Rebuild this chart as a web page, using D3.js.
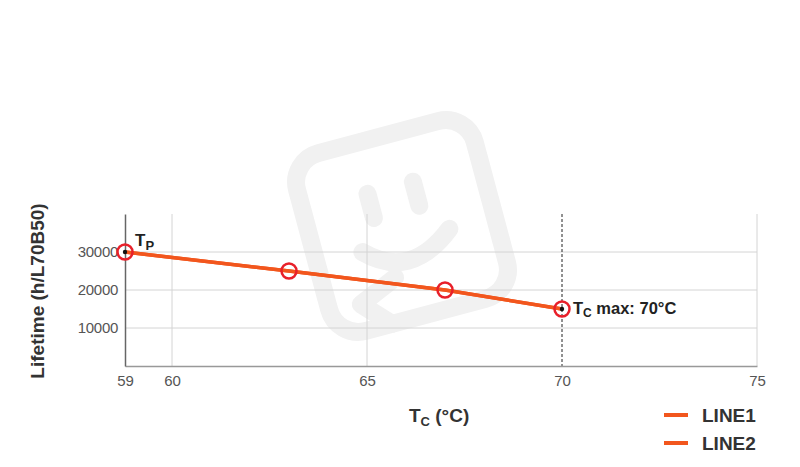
<!DOCTYPE html>
<html>
<head>
<meta charset="utf-8">
<script src="https://cdn.jsdelivr.net/npm/d3@7"></script>
<style>
html,body{margin:0;padding:0;background:#fff;}
svg{display:block;font-family:"Liberation Sans",Arial,sans-serif;}
</style>
</head>
<body>
<svg id="chart" width="800" height="467"></svg>
<script>
// ---- data ----
const temperatures = [59, 63, 67, 70];
const line1Values = [30000, 25000, 20000, 15000];
const line2Values = [30000, 25000, 20000, 15000];
const xTickValues = [59, 60, 65, 70, 75];
const yTickValues = [10000, 20000, 30000];
const seriesNames = ["LINE1", "LINE2"];

const svg = d3.select("#chart");
const lineColor = "#f2561d";
const markerColor = "#e8202a";
const font = "Liberation Sans, Arial, sans-serif";

// scales
const x = d3.scaleLinear().domain([59, 60, 75]).range([125, 172, 757]);
const y = d3.scaleLinear().domain([0, 40000]).range([366, 214]);

// watermark
const wm = svg.append("g")
  .attr("transform", "translate(402,226) rotate(-15)")
  .attr("fill", "none").attr("stroke", "#f1f1f1").attr("stroke-width", 18)
  .attr("stroke-linecap", "round");
wm.append("rect").attr("x", -92).attr("y", -92).attr("width", 184).attr("height", 184).attr("rx", 30);
wm.append("line").attr("x1", -25).attr("y1", -40).attr("x2", -25).attr("y2", -15);
wm.append("line").attr("x1", 22).attr("y1", -40).attr("x2", 22).attr("y2", -15);
wm.append("path").attr("d", "M-45,15 Q-5,55 45,15");
wm.append("path").attr("d", "M-60,65 L-35,92 M-60,65 L-20,48");

// gridlines
const grid = svg.append("g");
grid.selectAll("line.h").data(yTickValues).join("line")
  .attr("x1", x(59)).attr("x2", x(75))
  .attr("y1", d => y(d)).attr("y2", d => y(d))
  .attr("stroke", "#d4d4d4").attr("stroke-width", 1);
grid.selectAll("line.v").data([60, 65, 75]).join("line")
  .attr("x1", d => x(d)).attr("x2", d => x(d))
  .attr("y1", y(40000)).attr("y2", y(0))
  .attr("stroke", "#d4d4d4").attr("stroke-width", 1);

// dashed Tc max line
svg.append("line")
  .attr("x1", x(70)).attr("x2", x(70))
  .attr("y1", y(40000)).attr("y2", y(0))
  .attr("stroke", "#222").attr("stroke-width", 1).attr("stroke-dasharray", "3,2");

// axes
const xAxis = svg.append("g").attr("transform", `translate(0,${y(0)})`)
  .call(d3.axisBottom(x).tickValues(xTickValues).tickSize(0).tickPadding(9).tickFormat(d3.format("d")));
xAxis.select(".domain").attr("stroke", "#999").attr("stroke-width", 1.5);
xAxis.selectAll("text").attr("font-size", 15).attr("fill", "#555").attr("font-family", font);

const yAxis = svg.append("g").attr("transform", `translate(${x(59)},0)`)
  .call(d3.axisLeft(y).tickValues(yTickValues).tickSize(0).tickPadding(7).tickFormat(d3.format("d")));
yAxis.select(".domain").attr("stroke", "#666").attr("stroke-width", 1.5);
yAxis.selectAll("text").attr("font-size", 15).attr("fill", "#555").attr("font-family", font)
  .attr("letter-spacing", -0.3);

// lines
const lineGen = d3.line().x((d, i) => x(temperatures[i])).y(d => y(d));
[line2Values, line1Values].forEach(vals => {
  svg.append("path").datum(vals)
    .attr("d", lineGen).attr("fill", "none")
    .attr("stroke", lineColor).attr("stroke-width", 3.5);
});

// markers
svg.selectAll("circle.m").data(line1Values).join("circle")
  .attr("cx", (d, i) => x(temperatures[i])).attr("cy", d => y(d))
  .attr("r", 7.5).attr("fill", "none")
  .attr("stroke", markerColor).attr("stroke-width", 2.5);
svg.selectAll("circle.dot").data([0, temperatures.length - 1]).join("circle")
  .attr("cx", i => x(temperatures[i])).attr("cy", i => y(line1Values[i]))
  .attr("r", 2.2).attr("fill", "#111");

// annotations
const tp = svg.append("text").attr("x", x(59) + 10).attr("y", y(30000) - 6)
  .attr("font-size", 17).attr("font-weight", "bold").attr("fill", "#222");
tp.append("tspan").text("T");
tp.append("tspan").attr("font-size", 13).attr("dy", 4).text("P");

const tc = svg.append("text").attr("x", x(70) + 11).attr("y", y(15000) + 5)
  .attr("font-size", 16.5).attr("font-weight", "bold").attr("fill", "#222");
tc.append("tspan").text("T");
tc.append("tspan").attr("font-size", 12).attr("dy", 3).text("C");
tc.append("tspan").attr("dy", -3).text(" max: 70°C");

// axis titles
svg.append("text")
  .attr("transform", `translate(44,${(y(0) + y(40000)) / 2 + 1}) rotate(-90)`)
  .attr("text-anchor", "middle").attr("font-size", 19).attr("font-weight", "bold").attr("fill", "#333")
  .text("Lifetime (h/L70B50)");

const xt = svg.append("text").attr("x", 409).attr("y", 422)
  .attr("font-size", 19).attr("font-weight", "bold").attr("fill", "#333");
xt.append("tspan").text("T");
xt.append("tspan").attr("font-size", 13).attr("dy", 4).text("C");
xt.append("tspan").attr("dy", -4).text(" (°C)");

// legend
const legend = svg.append("g");
seriesNames.forEach((name, i) => {
  const ly = 415 + i * 28;
  legend.append("line").attr("x1", 664).attr("x2", 688).attr("y1", ly).attr("y2", ly)
    .attr("stroke", lineColor).attr("stroke-width", 4);
  legend.append("text").attr("x", 702).attr("y", ly + 7)
    .attr("font-size", 19).attr("font-weight", "bold").attr("fill", "#333").text(name);
});
</script>
</body>
</html>
